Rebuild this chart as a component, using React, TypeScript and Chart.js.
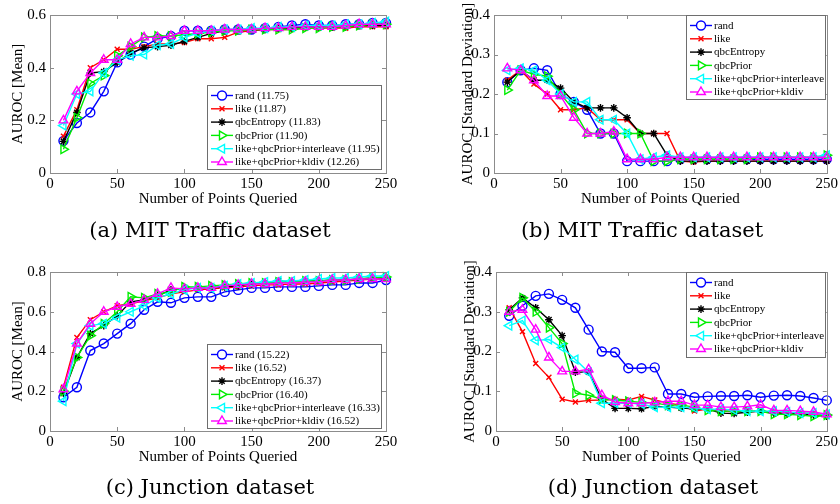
import React, { useEffect, useRef } from 'react';
import { Chart, registerables } from 'chart.js';
import { drawPoint } from 'chart.js/helpers';

Chart.register(...registerables);

// ---------------- data ----------------
const pointsQueried = [10, 20, 30, 40, 50, 60, 70, 80, 90, 100, 110, 120, 130, 140, 150, 160, 170, 180, 190, 200, 210, 220, 230, 240, 250];

const seriesNames = ['rand', 'like', 'qbcEntropy', 'qbcPrior', 'like+qbcPrior+interleave', 'like+qbcPrior+kldiv'];
const mitMeanLegend = ['rand (11.75)', 'like (11.87)', 'qbcEntropy (11.83)', 'qbcPrior (11.90)', 'like+qbcPrior+interleave (11.95)', 'like+qbcPrior+kldiv (12.26)'];
const junctionMeanLegend = ['rand (15.22)', 'like (16.52)', 'qbcEntropy (16.37)', 'qbcPrior (16.40)', 'like+qbcPrior+interleave (16.33)', 'like+qbcPrior+kldiv (16.52)'];

const mitMeanRand = [0.122, 0.19, 0.23, 0.31, 0.42, 0.45, 0.48, 0.51, 0.52, 0.54, 0.54, 0.54, 0.545, 0.545, 0.545, 0.55, 0.555, 0.56, 0.565, 0.56, 0.56, 0.565, 0.565, 0.57, 0.57];
const mitMeanLike = [0.14, 0.24, 0.40, 0.43, 0.47, 0.47, 0.48, 0.49, 0.49, 0.495, 0.51, 0.51, 0.515, 0.535, 0.54, 0.545, 0.545, 0.545, 0.55, 0.55, 0.55, 0.55, 0.555, 0.555, 0.555];
const mitMeanQbcEntropy = [0.12, 0.23, 0.38, 0.385, 0.42, 0.455, 0.475, 0.48, 0.485, 0.50, 0.515, 0.53, 0.54, 0.545, 0.545, 0.545, 0.55, 0.55, 0.555, 0.555, 0.555, 0.555, 0.56, 0.56, 0.56];
const mitMeanQbcPrior = [0.09, 0.21, 0.34, 0.37, 0.445, 0.48, 0.515, 0.52, 0.52, 0.525, 0.53, 0.535, 0.54, 0.54, 0.545, 0.545, 0.545, 0.545, 0.55, 0.55, 0.555, 0.555, 0.56, 0.565, 0.565];
const mitMeanInterleave = [0.18, 0.30, 0.31, 0.38, 0.43, 0.445, 0.45, 0.485, 0.49, 0.515, 0.53, 0.54, 0.545, 0.545, 0.55, 0.55, 0.555, 0.555, 0.56, 0.56, 0.56, 0.565, 0.565, 0.57, 0.575];
const mitMeanKldiv = [0.20, 0.31, 0.38, 0.43, 0.43, 0.49, 0.515, 0.515, 0.52, 0.54, 0.54, 0.54, 0.545, 0.545, 0.545, 0.55, 0.55, 0.555, 0.555, 0.555, 0.555, 0.56, 0.565, 0.565, 0.565];

const mitStdRand = [0.23, 0.26, 0.265, 0.26, 0.20, 0.18, 0.16, 0.10, 0.10, 0.03, 0.03, 0.03, 0.03, 0.035, 0.035, 0.035, 0.035, 0.035, 0.035, 0.035, 0.035, 0.035, 0.035, 0.035, 0.035];
const mitStdLike = [0.235, 0.26, 0.225, 0.20, 0.16, 0.16, 0.165, 0.135, 0.135, 0.135, 0.10, 0.10, 0.10, 0.03, 0.028, 0.03, 0.03, 0.03, 0.03, 0.03, 0.03, 0.03, 0.03, 0.03, 0.03];
const mitStdQbcEntropy = [0.23, 0.26, 0.235, 0.235, 0.215, 0.18, 0.165, 0.165, 0.165, 0.14, 0.10, 0.10, 0.045, 0.03, 0.03, 0.03, 0.03, 0.03, 0.03, 0.03, 0.03, 0.03, 0.03, 0.03, 0.03];
const mitStdQbcPrior = [0.21, 0.26, 0.25, 0.245, 0.20, 0.16, 0.10, 0.10, 0.10, 0.10, 0.10, 0.03, 0.03, 0.035, 0.035, 0.035, 0.035, 0.035, 0.035, 0.04, 0.04, 0.04, 0.04, 0.04, 0.045];
const mitStdInterleave = [0.26, 0.265, 0.26, 0.235, 0.20, 0.18, 0.18, 0.135, 0.135, 0.10, 0.035, 0.04, 0.045, 0.04, 0.04, 0.04, 0.04, 0.04, 0.04, 0.04, 0.04, 0.04, 0.04, 0.04, 0.045];
const mitStdKldiv = [0.265, 0.26, 0.235, 0.195, 0.195, 0.14, 0.10, 0.10, 0.105, 0.035, 0.035, 0.035, 0.04, 0.04, 0.04, 0.04, 0.04, 0.04, 0.04, 0.04, 0.04, 0.04, 0.04, 0.04, 0.04];

const junctionMeanRand = [0.17, 0.22, 0.405, 0.44, 0.49, 0.54, 0.61, 0.65, 0.645, 0.67, 0.675, 0.675, 0.70, 0.71, 0.72, 0.72, 0.725, 0.725, 0.725, 0.73, 0.735, 0.735, 0.745, 0.745, 0.76];
const junctionMeanLike = [0.22, 0.47, 0.56, 0.60, 0.63, 0.64, 0.655, 0.67, 0.69, 0.70, 0.71, 0.715, 0.72, 0.725, 0.73, 0.735, 0.735, 0.74, 0.74, 0.745, 0.75, 0.755, 0.76, 0.765, 0.765];
const junctionMeanQbcEntropy = [0.19, 0.37, 0.49, 0.53, 0.58, 0.65, 0.66, 0.68, 0.71, 0.715, 0.72, 0.72, 0.725, 0.73, 0.74, 0.745, 0.755, 0.75, 0.755, 0.755, 0.76, 0.76, 0.765, 0.77, 0.77];
const junctionMeanQbcPrior = [0.20, 0.37, 0.48, 0.54, 0.60, 0.675, 0.67, 0.69, 0.70, 0.725, 0.725, 0.73, 0.735, 0.74, 0.745, 0.745, 0.75, 0.75, 0.755, 0.755, 0.76, 0.76, 0.765, 0.77, 0.775];
const junctionMeanInterleave = [0.15, 0.44, 0.53, 0.54, 0.57, 0.60, 0.63, 0.67, 0.69, 0.71, 0.72, 0.72, 0.73, 0.74, 0.745, 0.75, 0.755, 0.755, 0.76, 0.765, 0.77, 0.77, 0.775, 0.78, 0.78];
const junctionMeanKldiv = [0.21, 0.44, 0.54, 0.60, 0.625, 0.64, 0.66, 0.69, 0.72, 0.715, 0.72, 0.72, 0.73, 0.735, 0.74, 0.74, 0.745, 0.745, 0.75, 0.75, 0.76, 0.76, 0.765, 0.765, 0.765];

const junctionStdRand = [0.29, 0.315, 0.34, 0.345, 0.33, 0.31, 0.255, 0.20, 0.198, 0.158, 0.158, 0.16, 0.093, 0.093, 0.085, 0.087, 0.088, 0.088, 0.09, 0.085, 0.089, 0.09, 0.088, 0.083, 0.077];
const junctionStdLike = [0.31, 0.25, 0.17, 0.135, 0.08, 0.073, 0.077, 0.078, 0.08, 0.078, 0.087, 0.078, 0.07, 0.065, 0.05, 0.055, 0.05, 0.05, 0.05, 0.05, 0.048, 0.045, 0.045, 0.045, 0.04];
const junctionStdQbcEntropy = [0.305, 0.335, 0.31, 0.28, 0.24, 0.148, 0.148, 0.08, 0.057, 0.057, 0.056, 0.062, 0.06, 0.058, 0.056, 0.055, 0.045, 0.044, 0.047, 0.05, 0.045, 0.043, 0.043, 0.04, 0.037];
const junctionStdQbcPrior = [0.30, 0.335, 0.30, 0.26, 0.22, 0.095, 0.09, 0.08, 0.078, 0.075, 0.072, 0.07, 0.065, 0.065, 0.06, 0.052, 0.05, 0.05, 0.05, 0.05, 0.042, 0.042, 0.04, 0.037, 0.04];
const junctionStdInterleave = [0.265, 0.278, 0.228, 0.23, 0.21, 0.18, 0.148, 0.07, 0.07, 0.07, 0.068, 0.06, 0.06, 0.06, 0.058, 0.055, 0.055, 0.053, 0.05, 0.05, 0.05, 0.048, 0.045, 0.045, 0.042];
const junctionStdKldiv = [0.30, 0.305, 0.255, 0.185, 0.15, 0.15, 0.155, 0.09, 0.073, 0.07, 0.07, 0.072, 0.075, 0.075, 0.065, 0.065, 0.06, 0.06, 0.062, 0.066, 0.052, 0.052, 0.05, 0.048, 0.042];

// ---------------- styles ----------------
const seriesStyles = [
  { color: '#0000ff', pointStyle: 'circle', rotation: 0, radius: 4.5 },
  { color: '#ff0000', pointStyle: 'crossRot', rotation: 0, radius: 3.5 },
  { color: '#000000', pointStyle: 'star', rotation: 0, radius: 3.8 },
  { color: '#00ee00', pointStyle: 'triangle', rotation: 90, radius: 5 },
  { color: '#00ffff', pointStyle: 'triangle', rotation: -90, radius: 5 },
  { color: '#ff00ff', pointStyle: 'triangle', rotation: 0, radius: 5 },
];

const FONT = '"Liberation Serif", "Times New Roman", serif';
const AXIS_GRAY = '#8c8c8c';
const LINE_W = 1.4;

type Panel = {
  left: number; top: number; width: number; height: number;
  area: { l: number; r: number; t: number; b: number };
  yMax: number; yStep: number; yTitle: string; yTitleX: number;
  series: number[][]; legend: string[];
  legendBox: { x: number; y: number; w: number; h: number };
  caption: string; captionX: number; captionY: number;
};

const panels: Panel[] = [
  {
    left: 0, top: 0, width: 420, height: 240,
    area: { l: 50, r: 386, t: 15, b: 173 },
    yMax: 0.6, yStep: 0.2, yTitle: 'AUROC [Mean]', yTitleX: 18,
    series: [mitMeanRand, mitMeanLike, mitMeanQbcEntropy, mitMeanQbcPrior, mitMeanInterleave, mitMeanKldiv],
    legend: mitMeanLegend,
    legendBox: { x: 207, y: 85, w: 174, h: 84 },
    caption: '(a) MIT Traffic dataset', captionX: 210, captionY: 230,
  },
  {
    left: 420, top: 0, width: 420, height: 240,
    area: { l: 74, r: 409, t: 15, b: 173 },
    yMax: 0.4, yStep: 0.1, yTitle: 'AUROC [Standard Deviation]', yTitleX: 48,
    series: [mitStdRand, mitStdLike, mitStdQbcEntropy, mitStdQbcPrior, mitStdInterleave, mitStdKldiv],
    legend: seriesNames,
    legendBox: { x: 266, y: 15, w: 139, h: 84 },
    caption: '(b) MIT Traffic dataset', captionX: 222, captionY: 230,
  },
  {
    left: 0, top: 240, width: 420, height: 264,
    area: { l: 50, r: 386, t: 32, b: 191 },
    yMax: 0.8, yStep: 0.2, yTitle: 'AUROC [Mean]', yTitleX: 18,
    series: [junctionMeanRand, junctionMeanLike, junctionMeanQbcEntropy, junctionMeanQbcPrior, junctionMeanInterleave, junctionMeanKldiv],
    legend: junctionMeanLegend,
    legendBox: { x: 207, y: 104, w: 174, h: 84 },
    caption: '(c) Junction dataset', captionX: 210, captionY: 247,
  },
  {
    left: 420, top: 240, width: 420, height: 264,
    area: { l: 76, r: 408, t: 32, b: 191 },
    yMax: 0.4, yStep: 0.1, yTitle: 'AUROC [Standard Deviation]', yTitleX: 50,
    series: [junctionStdRand, junctionStdLike, junctionStdQbcEntropy, junctionStdQbcPrior, junctionStdInterleave, junctionStdKldiv],
    legend: seriesNames,
    legendBox: { x: 266, y: 32, w: 139, h: 85 },
    caption: '(d) Junction dataset', captionX: 233, captionY: 247,
  },
];

const X_AXIS_H = 40;

function ChartPanel({ p }: { p: Panel }) {
  const ref = useRef<HTMLCanvasElement>(null);
  useEffect(() => {
    const canvas = ref.current!;
    const framePlugin = {
      id: 'frameAndLegend',
      afterDatasetsDraw(chart: any) {
        const { ctx, chartArea } = chart;
        const { left, right, top, bottom } = chartArea;
        const xs = chart.scales.x;
        const ys = chart.scales.y;
        ctx.save();
        ctx.strokeStyle = AXIS_GRAY;
        ctx.lineWidth = 1;
        ctx.strokeRect(Math.round(left) + 0.5, Math.round(top) + 0.5, Math.round(right - left), Math.round(bottom - top));
        ctx.beginPath();
        xs.ticks.forEach((t: any) => {
          const px = Math.round(xs.getPixelForValue(t.value)) + 0.5;
          ctx.moveTo(px, bottom); ctx.lineTo(px, bottom - 4);
          ctx.moveTo(px, top); ctx.lineTo(px, top + 4);
        });
        ys.ticks.forEach((t: any) => {
          const py = Math.round(ys.getPixelForValue(t.value)) + 0.5;
          ctx.moveTo(left, py); ctx.lineTo(left + 4, py);
          ctx.moveTo(right, py); ctx.lineTo(right - 4, py);
        });
        ctx.stroke();

        // legend
        const lb = p.legendBox;
        ctx.fillStyle = '#ffffff';
        ctx.fillRect(lb.x, lb.y, lb.w, lb.h);
        ctx.strokeStyle = '#6e6e6e';
        ctx.strokeRect(lb.x + 0.5, lb.y + 0.5, lb.w, lb.h);
        const rowH = 13.3;
        ctx.font = `11px ${FONT}`;
        ctx.textBaseline = 'middle';
        ctx.textAlign = 'left';
        p.legend.forEach((label, i) => {
          const st = seriesStyles[i];
          const cy = lb.y + 10.5 + rowH * i;
          ctx.strokeStyle = st.color;
          ctx.lineWidth = LINE_W;
          ctx.beginPath();
          ctx.moveTo(lb.x + 4, cy);
          ctx.lineTo(lb.x + 26, cy);
          ctx.stroke();
          ctx.fillStyle = '#ffffff';
          drawPoint(ctx, { pointStyle: st.pointStyle as any, rotation: st.rotation, radius: st.radius, borderWidth: LINE_W }, lb.x + 15, cy);
          ctx.fillStyle = '#000000';
          ctx.fillText(label, lb.x + 28, cy + 0.5);
        });
        ctx.restore();
      },
    };

    const datasets = p.series.map((vals, i) => {
      const st = seriesStyles[i];
      return {
        label: seriesNames[i],
        data: vals.map((v, k) => ({ x: pointsQueried[k], y: v })),
        borderColor: st.color,
        backgroundColor: st.color,
        borderWidth: LINE_W,
        pointStyle: st.pointStyle as any,
        pointRotation: st.rotation,
        pointRadius: st.radius,
        pointBorderColor: st.color,
        pointBackgroundColor: 'rgba(0,0,0,0)',
        pointBorderWidth: LINE_W,
        tension: 0,
        clip: false as any,
        order: seriesNames.length - i,
      };
    });

    const chart = new Chart(canvas, {
      type: 'line',
      data: { datasets: datasets as any },
      options: {
        animation: false,
        responsive: false,
        maintainAspectRatio: false,
        layout: {
          autoPadding: false,
          padding: { left: 0, top: p.area.t, right: p.width - p.area.r, bottom: p.height - p.area.b - X_AXIS_H },
        } as any,
        plugins: { legend: { display: false }, tooltip: { enabled: false } },
        scales: {
          x: {
            type: 'linear',
            min: 0, max: 250,
            afterFit: (s: any) => { s.height = X_AXIS_H; },
            grid: { display: false, drawTicks: false },
            border: { display: false },
            ticks: { stepSize: 50, color: '#000', font: { family: FONT, size: 15 }, padding: 2, maxRotation: 0 },
            title: { display: true, text: 'Number of Points Queried', color: '#000', font: { family: FONT, size: 15 }, padding: { top: 0, bottom: 5 } },
          },
          y: {
            type: 'linear',
            min: 0, max: p.yMax,
            afterFit: (s: any) => { s.width = p.area.l; },
            grid: { display: false, drawTicks: false },
            border: { display: false },
            ticks: { stepSize: p.yStep, color: '#000', font: { family: FONT, size: 15 }, padding: 4 },
            title: { display: true, text: p.yTitle, color: '#000', font: { family: FONT, size: 15 }, padding: { top: p.yTitleX - 9, bottom: 0 } },
          },
        },
      },
      plugins: [framePlugin],
    });
    return () => chart.destroy();
  }, [p]);

  return (
    <div style={{ position: 'absolute', left: p.left, top: p.top, width: p.width, height: p.height }}>
      <canvas ref={ref} width={p.width} height={p.height} style={{ width: p.width, height: p.height, display: 'block' }} />
      <div
        style={{
          position: 'absolute', left: p.captionX, top: p.captionY, transform: 'translate(-50%, -50%)',
          fontFamily: '"DejaVu Serif", serif', fontSize: 21, whiteSpace: 'nowrap', color: '#000', lineHeight: 1,
        }}
      >
        {p.caption}
      </div>
    </div>
  );
}

export default function App() {
  return (
    <div style={{ position: 'fixed', left: 0, top: 0, width: 840, height: 504, background: '#fff', overflow: 'hidden' }}>
      {panels.map((p, i) => <ChartPanel key={i} p={p} />)}
    </div>
  );
}
